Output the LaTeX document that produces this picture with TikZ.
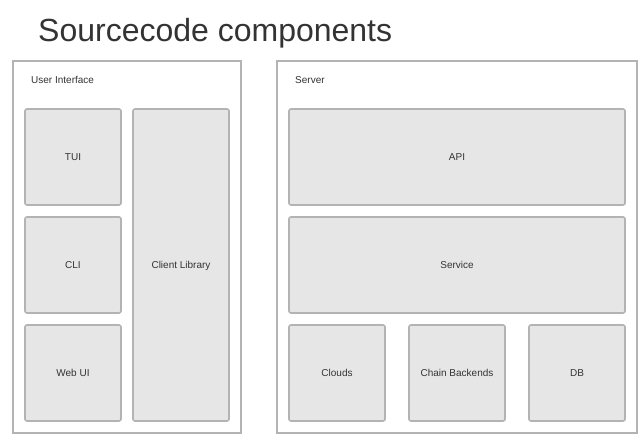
\documentclass[tikz,border=0pt]{standalone}
\usepackage{fontspec}
\setmainfont{Liberation Sans}
\definecolor{boxfill}{HTML}{E6E6E6}
\definecolor{boxline}{HTML}{B3B3B3}
\definecolor{textgray}{HTML}{333333}
\tikzset{
	group/.style={draw=boxline, line width=1.6pt, inner sep=0pt},
	part/.style={draw=boxline, fill=boxfill, line width=1.6pt, rounded corners=2pt, inner sep=0pt, text=textgray, text depth=0pt, font=\fontsize{10}{12}\selectfont},
	caption/.style={anchor=west, inner sep=0pt, text=textgray, font=\fontsize{10}{12}\selectfont}
}

\begin{document}
\begin{tikzpicture}[x=1pt, y=-1pt]
		\useasboundingbox (0,0) rectangle (639,435);
		\node (title)[anchor=west, inner sep=0pt, text=textgray, font=\fontsize{32}{38}\selectfont] at (38,33) {Sourcecode components};

		\node (ui)[group, minimum width=228pt, minimum height=372pt] at (127,247) {};
		\node (server)[group, minimum width=360pt, minimum height=372pt] at (457,247) {};
		\node (uilabel)[caption] at (31,80) {User Interface};
		\node (serverlabel)[caption] at (295,80) {Server};

		\node (tui)[part, minimum width=96pt, minimum height=96pt] at (73,157) {TUI};
		\node (cli)[part, minimum width=96pt, minimum height=96pt] at (73,265) {CLI};
		\node (webui)[part, minimum width=96pt, minimum height=96pt] at (73,373) {Web UI};
		\node (client)[part, minimum width=96pt, minimum height=312pt] at (181,265) {Client Library};

		\node (api)[part, minimum width=336pt, minimum height=96pt] at (457,157) {API};
		\node (service)[part, minimum width=336pt, minimum height=96pt] at (457,265) {Service};
		\node (clouds)[part, minimum width=96pt, minimum height=96pt] at (337,373) {Clouds};
		\node (chain)[part, minimum width=96pt, minimum height=96pt] at (457,373) {Chain Backends};
		\node (db)[part, minimum width=96pt, minimum height=96pt] at (577,373) {DB};
	\end{tikzpicture}
\end{document}
